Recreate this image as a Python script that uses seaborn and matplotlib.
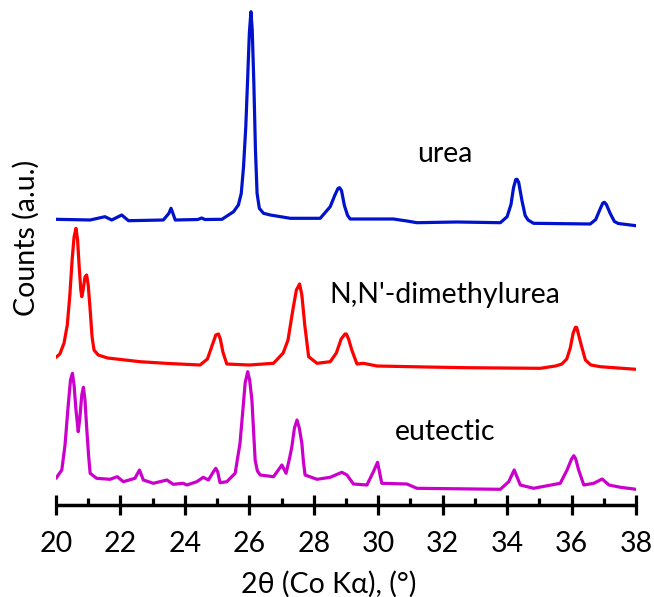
import numpy as np
import pandas as pd
import matplotlib
matplotlib.use("Agg")
import matplotlib.pyplot as plt
import seaborn as sns
from matplotlib.ticker import MultipleLocator

# ---------------- data ----------------
urea_x = [20.00, 21.06, 21.52, 21.73, 22.04, 22.25, 23.33, 23.50, 23.57, 23.63, 23.70,
          24.40, 24.52, 24.62, 25.15, 25.51, 25.66, 25.75, 25.82, 25.89, 25.95, 26.00,
          26.05, 26.09, 26.14, 26.19, 26.24, 26.31, 26.44, 26.65, 27.27, 28.20, 28.51,
          28.65, 28.75, 28.80, 28.86, 28.95, 29.05, 29.13, 30.47, 30.89, 31.20, 32.44,
          33.79, 34.00, 34.12, 34.20, 34.27, 34.31, 34.36, 34.46, 34.56, 34.65, 34.82,
          36.58, 36.75, 36.88, 36.97, 37.02, 37.08, 37.20, 37.33, 37.45, 38.00]
urea_y = [0.2, -0.5, 2.8, -0.5, 4.5, -1.2, -0.5, 6, 11.2, 6, -0.5,
          0, 1.5, 0, 0.2, 7.8, 14.5, 26.2, 52.8, 92.8, 142.8, 186.2,
          207.8, 189.5, 136.2, 69.5, 26.2, 11.2, 6.2, 4.5, 1.2, 1.2, 12.8,
          24, 31, 31.8, 29, 14, 4, 0.5, 0.5, -1.5, -3.2, -2.5,
          -3.2, 2.8, 15, 32, 40, 40.2, 37, 19, 4, -0.5, -3.8,
          -4.5, 0, 10, 16.5, 17.2, 15, 6, -2, -4, -6.2]

dmu_x = [20.00, 20.12, 20.25, 20.35, 20.43, 20.50, 20.56, 20.62, 20.67, 20.72, 20.77,
         20.80, 20.84, 20.90, 20.95, 21.00, 21.06, 21.12, 21.18, 21.31, 21.60, 22.61,
         23.50, 24.47, 24.70, 24.85, 24.96, 25.04, 25.10, 25.18, 25.30, 26.00, 26.75,
         27.05, 27.20, 27.35, 27.46, 27.56, 27.63, 27.72, 27.84, 28.10, 28.51, 28.70,
         28.85, 28.97, 29.01, 29.08, 29.18, 29.34, 29.54, 29.96, 31.50, 32.75, 35.03,
         35.50, 35.70, 35.85, 35.96, 36.05, 36.12, 36.16, 36.22, 36.30, 36.43, 36.60,
         36.89, 38.00]
dmu_y = [7.7, 11, 22, 40, 70, 105, 128, 136.7, 125, 98, 75,
         68.3, 75, 88, 90, 80, 55, 28, 15, 10, 7, 3.3,
         1.5, 0, 6, 20, 30, 31, 26, 13, 1, 0, 1.7,
         12, 25, 55, 75, 81, 70, 40, 8.3, 1.7, 3.3, 12,
         26, 31, 31, 26, 15, 1, 1.7, -1, -2, -2.7, -3.3,
         -1, 1, 6, 17, 32, 37.7, 37.5, 30, 20, 5, 0,
         -1.7, -4.3]

eut_x = [20.00, 20.18, 20.28, 20.38, 20.45, 20.51, 20.56, 20.62, 20.69, 20.74, 20.80,
         20.85, 20.90, 20.95, 21.01, 21.06, 21.26, 21.68, 21.90, 22.09, 22.45, 22.59,
         22.71, 23.02, 23.44, 23.64, 23.95, 24.06, 24.37, 24.57, 24.73, 24.90, 24.96,
         25.02, 25.09, 25.30, 25.56, 25.71, 25.80, 25.87, 25.95, 26.01, 26.08, 26.13,
         26.18, 26.25, 26.34, 26.75, 26.90, 27.01, 27.14, 27.25, 27.32, 27.40, 27.48,
         27.55, 27.63, 27.68, 27.73, 28.10, 28.51, 28.87, 29.03, 29.23, 29.65, 29.85,
         29.98, 30.11, 30.89, 31.20, 33.79, 34.05, 34.22, 34.41, 34.82, 35.65, 35.86,
         36.00, 36.07, 36.13, 36.22, 36.38, 36.69, 36.95, 37.16, 37.52, 38.00]
eut_y = [1.7, 10, 35, 75, 100, 106.7, 95, 70, 48.3, 62, 85,
         92.7, 80, 53.3, 25, 6.7, 1.7, 0.7, 3.3, -1.7, 1.7, 10,
         0, -3.3, 0, -4.3, -3.3, -5, -1.7, 2.7, 0, 9, 11.7,
         8, -2.7, -1.7, 6.7, 36.7, 70, 97, 108.3, 100, 80, 50,
         20, 9, 5, 3.3, 10, 15, 6.7, 22, 33.3, 52, 60,
         52, 36.7, 18, 5, 0.7, 2.7, 7.7, 5, -4, -5, 8.3,
         17.7, -3.3, -4, -8.3, -9.3, -1.7, 10, -5, -8.3, -3.3, 10,
         21, 24.3, 21, 10, -5, -3.3, 1, -5, -7.3, -9.3]

series_names = ["urea", "N,N'-dimethylurea", "eutectic"]
offsets = [285.0, 139.5, 24.5]
colors = ["#0012CC", "#FF0000", "#CC00CC"]
x_ticks = [20, 22, 24, 26, 28, 30, 32, 34, 36, 38]

frames = []
for name, xs, ys, off in zip(series_names, [urea_x, dmu_x, eut_x],
                             [urea_y, dmu_y, eut_y], offsets):
    frames.append(pd.DataFrame({"two_theta": xs,
                                "counts": np.array(ys) + off,
                                "sample": name}))
df = pd.concat(frames, ignore_index=True)

# ---------------- plotting ----------------
sns.set_theme(style="white")
plt.rcParams["font.family"] = ["Lato", "DejaVu Sans"]

fig = plt.figure(figsize=(6.54, 5.97), dpi=100)
ax = fig.add_axes([56 / 654, 92.5 / 597, 580 / 654, 504.5 / 597])

sns.lineplot(data=df, x="two_theta", y="counts", hue="sample",
             palette=dict(zip(series_names, colors)), sort=False,
             estimator=None, linewidth=2.3, legend=False, ax=ax)
for line in ax.lines:
    line.set_solid_joinstyle("round")
    line.set_solid_capstyle("round")

ax.set_xlim(20, 38)
ax.set_ylim(0, 504.5)
ax.set_xticks(x_ticks)
ax.xaxis.set_minor_locator(MultipleLocator(1))
ax.set_yticks([])

for s in ["left", "right", "top"]:
    ax.spines[s].set_visible(False)
ax.spines["bottom"].set_linewidth(2.5)
ax.spines["bottom"].set_color("black")
ax.spines["bottom"].set_capstyle("butt")

ax.tick_params(axis="x", which="major", direction="inout", length=13.7,
               width=2.3, color="black", labelsize=20.5, pad=12.5,
               labelcolor="black", bottom=True)
ax.tick_params(axis="x", which="minor", direction="in", length=5,
               width=2.3, color="black", bottom=True)

ax.set_xlabel("")
ax.set_ylabel("")
fig.text(26 / 654, 1 - 238 / 597, "Counts (a.u.)", rotation=90,
         ha="center", va="center", fontsize=20.5, color="black")

fig.text(329 / 654, 1 - 593 / 597, "2θ (Co Kα), (°)", ha="center",
         va="baseline", fontsize=20.5, color="black")

label_x = 20 + (445 - 56) / 32.2
for name, base_py in zip(series_names, [162, 303.3, 440]):
    ax.text(label_x, 504.5 - base_py, name, ha="center", va="baseline",
            fontsize=20.5, color="black")

fig.savefig("out.png", dpi=100)
